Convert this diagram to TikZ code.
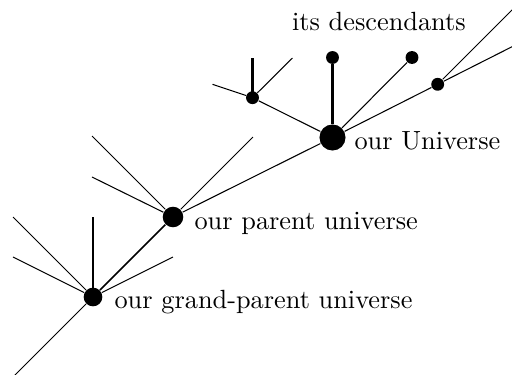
\documentclass[tikz,border=0pt]{standalone}
\begin{document}
\begin{tikzpicture}[x=0.38pt,y=-0.38pt,
  dot/.style={circle,fill=black,inner sep=0pt,draw=none},
  bigdot/.style={dot,minimum size=#1},
  thin line/.style={line width=0.4pt},
  thick line/.style={line width=0.8pt},
  lbl/.style={anchor=base west,inner sep=0pt,font=\normalsize}]
\useasboundingbox (0,0) rectangle (512,375);
% nodes
\node[bigdot=7.1pt] (G) at (93,297) {};
\node[bigdot=7.8pt] (P) at (173,217) {};
\node[bigdot=9.9pt] (U) at (332.5,137.5) {};
\node[bigdot=4.9pt] (D1) at (252.5,97.7) {};
\node[bigdot=4.9pt] (D2) at (332.5,57.5) {};
\node[bigdot=4.9pt] (D3) at (412,57.5) {};
\node[bigdot=4.9pt] (D4) at (437.7,84.3) {};
% free ends
\coordinate (g1) at (13,217);
\coordinate (g2) at (13,257);
\coordinate (g3) at (93,217);
\coordinate (g4) at (173,257);
\coordinate (g5) at (11,379);
\coordinate (p1) at (92,136);
\coordinate (p2) at (92,177);
\coordinate (p3) at (253,137);
\coordinate (d1a) at (212.5,84.3);
\coordinate (d1b) at (252.5,58);
\coordinate (d1c) at (292.5,58);
\coordinate (d4a) at (520,2);
\coordinate (d4b) at (520,42.7);
% connectors
\draw[thin line] (G) -- (g1);
\draw[thin line] (G) -- (g2);
\draw[thick line] (G.center) -- (g3);
\draw[thin line] (G) -- (g4);
\draw[thin line] (G) -- (g5);
\draw[line width=0.65pt] (G) -- (P);
\draw[thin line] (P) -- (p1);
\draw[thin line] (P) -- (p2);
\draw[thin line] (P) -- (p3);
\draw[thin line] (P) -- (U);
\draw[thin line] (U) -- (D1);
\draw[thick line] (U) -- (D2);
\draw[thin line] (U) -- (D3);
\draw[thin line] (U) -- (D4);
\draw[thin line] (D1) -- (d1a);
\draw[thick line] (D1.center) -- (d1b);
\draw[thin line] (D1) -- (d1c);
\draw[thin line] (D4) -- (d4a);
\draw[thin line] (D4) -- (d4b);
% labels
\node[lbl] (LG) at (114,308) {our grand-parent universe};
\node[lbl] (LP) at (194,229) {our parent universe};
\node[lbl] (LU) at (354,149.5) {our Universe};
\node[lbl] (LD) at (291.5,30.5) {its descendants};
\end{tikzpicture}
\end{document}
